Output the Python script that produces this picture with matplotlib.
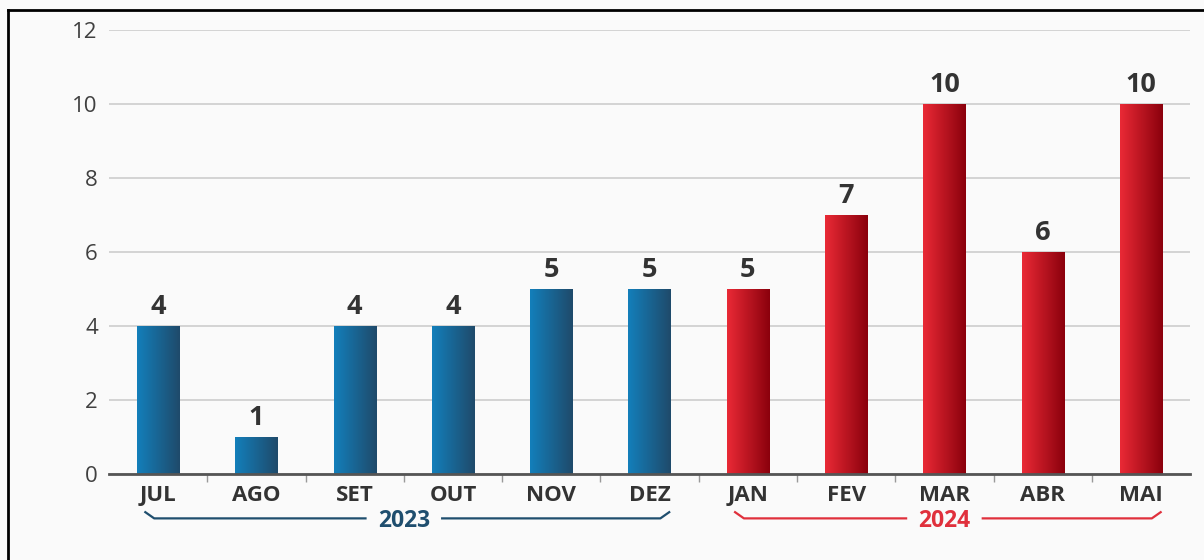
import matplotlib.pyplot as plt
import numpy as np
from matplotlib.colors import LinearSegmentedColormap
from matplotlib.lines import Line2D
import matplotlib.transforms as mtransforms

months = ["JUL", "AGO", "SET", "OUT", "NOV", "DEZ", "JAN", "FEV", "MAR", "ABR", "MAI"]
values = [4, 1, 4, 4, 5, 5, 5, 7, 10, 6, 10]
years = ["2023", "2023", "2023", "2023", "2023", "2023",
         "2024", "2024", "2024", "2024", "2024"]

year_colors = {"2023": "#1f4e6e", "2024": "#e0303c"}
grad = {"2023": LinearSegmentedColormap.from_list(None, ["#137fbb", "#1f4a6a"]),
        "2024": LinearSegmentedColormap.from_list(None, ["#ea2a36", "#8a000c"])}

plt.rcParams['font.family'] = ['Open Sans', 'DejaVu Sans']

fig = plt.figure(figsize=(12.04, 5.6), dpi=100)
fig.patch.set_facecolor("#fafafa")
ax = fig.add_axes([0.0905, 0.1536, 0.898, 0.7928])
ax.set_facecolor("#fafafa")

x = np.arange(len(months))
bw = 0.43
bars = ax.bar(x, values, width=bw, color="none", zorder=3)
ramp = np.linspace(0, 1, 256).reshape(1, -1)
for b, yr, v in zip(bars, years, values):
    x0 = b.get_x()
    im = ax.imshow(ramp, cmap=grad[yr], aspect="auto", zorder=3,
                   extent=[x0, x0 + bw, 0, v], interpolation="bicubic")
    im.set_clip_path(b)
    ax.text(b.get_x() + bw / 2, v + 0.17, str(v), ha="center", va="bottom",
            fontsize=19.5, fontweight="bold", color="#333333", zorder=4)

ax.set_xlim(-0.5, len(months) - 0.5)
ax.set_ylim(0, 12)
ax.set_yticks(range(0, 13, 2))
ax.yaxis.grid(True, color="#d3d3d3", linewidth=1.4, zorder=0)
ax.set_axisbelow(True)
ax.tick_params(axis="y", length=0, pad=8, labelsize=16, labelcolor="#404040")
ax.set_xticks(x)
ax.set_xticklabels(months, fontsize=16, fontweight="bold", color="#333333")
ax.set_xticks(np.arange(0.5, len(months) - 1, 1), minor=True)
ax.tick_params(axis="x", which="major", length=0, pad=8)
ax.tick_params(axis="x", which="minor", length=6, width=1, color="#999999")
for s in ["top", "right", "left"]:
    ax.spines[s].set_visible(False)
ax.spines["bottom"].set_color("#555555")
ax.spines["bottom"].set_linewidth(2)
ax.spines["bottom"].set_zorder(5)

# year brackets under the month labels
trans = mtransforms.blended_transform_factory(ax.transData, ax.transAxes)
y_top, y_low = -0.086, -0.100
for yr in ["2023", "2024"]:
    idx = [i for i, y in enumerate(years) if y == yr]
    a, b = idx[0] - 0.13, idx[-1] + 0.2
    mid = (idx[0] + idx[-1]) / 2
    c = year_colors[yr]
    gap = 0.39
    ax.add_line(Line2D([a, a + 0.09, mid - gap], [y_top, y_low, y_low],
                       transform=trans, color=c, lw=1.6, clip_on=False))
    ax.add_line(Line2D([mid + gap, b - 0.09, b], [y_low, y_low, y_top],
                       transform=trans, color=c, lw=1.6, clip_on=False))
    ax.text(mid, -0.119, yr, transform=trans, ha="center", va="baseline",
            fontsize=16.5, fontweight="bold", color=c)

# frame on left and top
fig.add_artist(Line2D([8 / 1204, 8 / 1204], [0, 1 - 10 / 560], transform=fig.transFigure,
                      color="black", lw=2))
fig.add_artist(Line2D([8 / 1204, 1], [1 - 10 / 560, 1 - 10 / 560], transform=fig.transFigure,
                      color="black", lw=2))

fig.savefig("out.png", dpi=100, facecolor=fig.get_facecolor())
